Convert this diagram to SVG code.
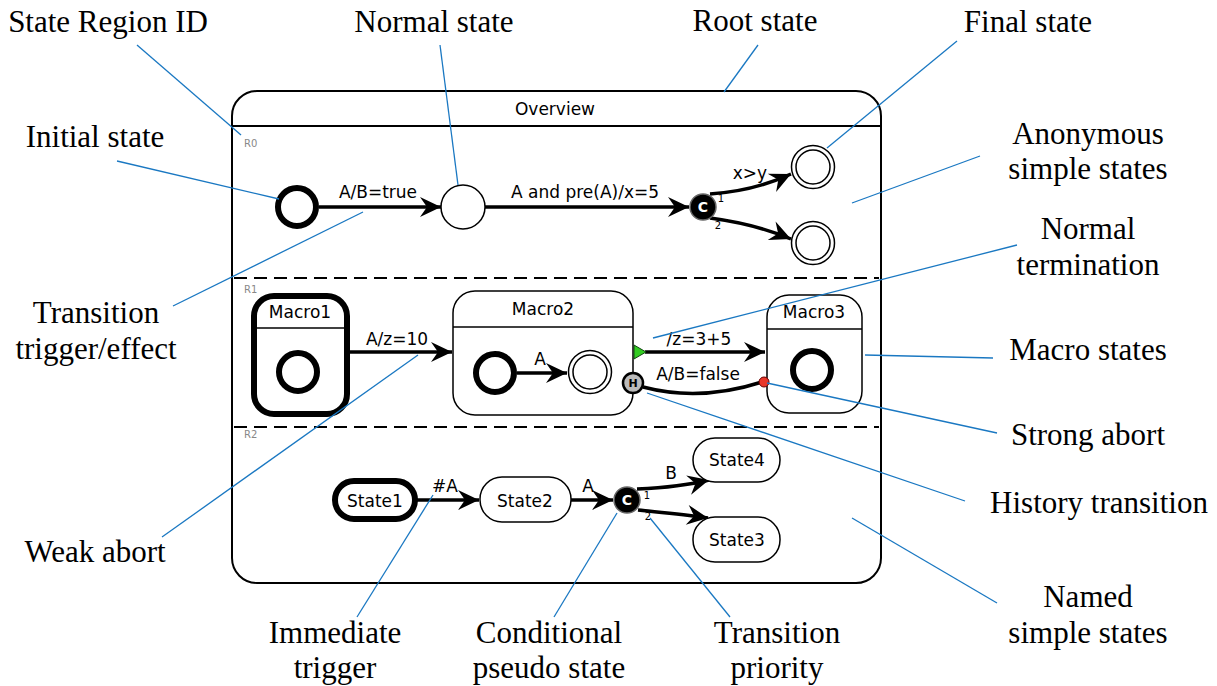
<svg xmlns="http://www.w3.org/2000/svg" width="1217" height="686" viewBox="0 0 1217 686">
<style>
.ann{font-family:"Liberation Serif","Times New Roman",serif;font-size:31px;fill:#000;text-anchor:middle}
.lead{stroke:#1a78c2;stroke-width:1.3;fill:none}
.lbl{font-family:"DejaVu Sans",sans-serif;font-size:17px;fill:#000;text-anchor:middle}
.rid{font-family:"DejaVu Sans",sans-serif;font-size:10px;fill:#888}
.pri{font-family:"DejaVu Sans",sans-serif;font-size:10px;fill:#000;text-anchor:middle}
.tr{stroke:#000;stroke-width:3.5;fill:none;marker-end:url(#ah)}
.init{fill:#fff;stroke:#000;stroke-width:6}
.thin{fill:#fff;stroke:#000;stroke-width:1.5}
.cond{fill:#000;stroke:#666;stroke-width:1.5}
.ct{font-family:"DejaVu Sans",sans-serif;font-size:14px;font-weight:bold;fill:#fff;text-anchor:middle}
.dash{stroke:#000;stroke-width:2;stroke-dasharray:13 7}
</style>
<defs>
<marker id="ah" markerUnits="userSpaceOnUse" markerWidth="24" markerHeight="24" viewBox="-22 -12 24 24" refX="0" refY="0" orient="auto">
<path d="M0,0 L-21,-10 L-14,0 L-21,10 Z" fill="#000"/>
</marker>
</defs>
<rect width="1217" height="686" fill="#fff"/>

<g id="root">
<rect x="232" y="91" width="649" height="492" rx="25" fill="none" stroke="#000" stroke-width="2"/>
<line x1="232" y1="126" x2="881" y2="126" stroke="#000" stroke-width="2"/>
<text x="555" y="115" class="lbl">Overview</text>
<line x1="234" y1="278" x2="879" y2="278" class="dash"/>
<line x1="234" y1="427" x2="879" y2="427" class="dash"/>
<text x="244" y="147" class="rid">R0</text>
<text x="244" y="293" class="rid">R1</text>
<text x="244" y="438" class="rid">R2</text>
</g>

<g id="connectors">
<line x1="319" y1="207" x2="441" y2="207" class="tr"/>
<text x="378" y="198" class="lbl">A/B=true</text>
<line x1="485" y1="207" x2="689" y2="207" class="tr"/>
<text x="585" y="198" class="lbl">A and pre(A)/x=5</text>
<path d="M710,194 C740,192 765,186 791,174" class="tr"/>
<text x="750" y="179" class="lbl">x&gt;y</text>
<path d="M710,218 C740,222 765,228 791,239" class="tr"/>
<text x="721" y="202" class="pri">1</text>
<text x="718" y="229" class="pri">2</text>

<line x1="350" y1="352" x2="452" y2="352" class="tr"/>
<text x="397" y="345" class="lbl">A/z=10</text>
<line x1="517" y1="373" x2="567" y2="373" class="tr"/>
<text x="540" y="365" class="lbl">A</text>
<line x1="645" y1="352" x2="765" y2="352" class="tr"/>
<text x="699" y="345" class="lbl">/z=3+5</text>
<path d="M643,387 Q700,402 762,382" stroke="#000" stroke-width="3.5" fill="none"/>
<text x="698" y="380" class="lbl">A/B=false</text>

<line x1="417" y1="500" x2="479" y2="500" class="tr"/>
<text x="445" y="492" class="lbl">#A</text>
<line x1="571" y1="500" x2="613" y2="500" class="tr"/>
<text x="588" y="492" class="lbl">A</text>
<path d="M637,489 C660,488 685,486 709,480" class="tr"/>
<text x="671" y="479" class="lbl">B</text>
<path d="M638,510 C665,513 688,515 708,518" class="tr"/>
<text x="647" y="499" class="pri">1</text>
<text x="648" y="520" class="pri">2</text>
</g>

<g id="initial0"><circle cx="297" cy="207" r="19" class="init"/></g>
<g id="normal0"><circle cx="463" cy="207" r="22" class="thin"/></g>
<g id="cond0"><circle cx="703" cy="207" r="13" class="cond"/><text x="703" y="212" class="ct">C</text></g>
<g id="final0a"><circle cx="813" cy="167" r="21.5" class="thin"/><circle cx="813" cy="167" r="17" class="thin"/></g>
<g id="final0b"><circle cx="813" cy="243" r="21.5" class="thin"/><circle cx="813" cy="243" r="17" class="thin"/></g>

<g id="macro1">
<rect x="254" y="296" width="93" height="118" rx="20" fill="#fff" stroke="#000" stroke-width="6"/>
<line x1="254" y1="328" x2="347" y2="328" stroke="#000" stroke-width="1.5"/>
<text x="300" y="318" class="lbl">Macro1</text>
<circle cx="298" cy="372" r="19" class="init"/>
</g>
<g id="macro2">
<rect x="453" y="291" width="180" height="124" rx="22" fill="none" stroke="#000" stroke-width="1.5"/>
<line x1="453" y1="327" x2="633" y2="327" stroke="#000" stroke-width="1.5"/>
<text x="543" y="315" class="lbl">Macro2</text>
<circle cx="495" cy="373" r="19" class="init"/>
<circle cx="590" cy="372" r="21.5" class="thin"/><circle cx="590" cy="372" r="17" class="thin"/>
<polygon points="634,345 646,352 634,359" fill="#33cc22" stroke="#114411" stroke-width="1"/>
<circle cx="633" cy="383" r="10" fill="#bbb" stroke="#000" stroke-width="2.5"/>
<text x="633" y="387" font-family="DejaVu Sans,sans-serif" font-size="11" font-weight="bold" text-anchor="middle">H</text>
</g>
<g id="macro3">
<rect x="767" y="295" width="95" height="118" rx="22" fill="#fff" stroke="#000" stroke-width="1.5"/>
<line x1="767" y1="329" x2="862" y2="329" stroke="#000" stroke-width="1.5"/>
<text x="814" y="318" class="lbl">Macro3</text>
<circle cx="812" cy="370" r="19" class="init"/>
<circle cx="764" cy="382" r="5" fill="#e8372a" stroke="#600" stroke-width="1"/>
</g>

<g id="state1"><rect x="335" y="481" width="80" height="38" rx="19" fill="#fff" stroke="#000" stroke-width="6"/><text x="375" y="507" class="lbl">State1</text></g>
<g id="state2"><rect x="480" y="477" width="91" height="45" rx="22" class="thin"/><text x="525" y="507" class="lbl">State2</text></g>
<g id="cond2"><circle cx="627" cy="500" r="13" class="cond"/><text x="627" y="505" class="ct">C</text></g>
<g id="state4"><rect x="693" y="438" width="87" height="44" rx="22" class="thin"/><text x="737" y="466" class="lbl">State4</text></g>
<g id="state3"><rect x="693" y="517" width="87" height="45" rx="22" class="thin"/><text x="737" y="546" class="lbl">State3</text></g>

<g id="annotations">
<line x1="137" y1="45" x2="241" y2="135" class="lead"/>
<line x1="117" y1="161" x2="279" y2="199" class="lead"/>
<line x1="440" y1="45" x2="458" y2="185" class="lead"/>
<line x1="758" y1="45" x2="724" y2="92" class="lead"/>
<line x1="957" y1="41" x2="827" y2="148" class="lead"/>
<line x1="980" y1="156" x2="852" y2="203" class="lead"/>
<line x1="173" y1="306" x2="363" y2="212" class="lead"/>
<line x1="1017" y1="245" x2="653" y2="338" class="lead"/>
<line x1="865" y1="355" x2="993" y2="358" class="lead"/>
<line x1="767" y1="383" x2="997" y2="433" class="lead"/>
<line x1="647" y1="393" x2="965" y2="501" class="lead"/>
<line x1="418" y1="355" x2="162" y2="537" class="lead"/>
<line x1="433" y1="495" x2="357" y2="617" class="lead"/>
<line x1="617" y1="513" x2="554" y2="617" class="lead"/>
<line x1="650" y1="518" x2="730" y2="617" class="lead"/>
<line x1="852" y1="518" x2="997" y2="603" class="lead"/>
<text x="108" y="32" class="ann">State Region ID</text>
<text x="434" y="32" class="ann">Normal state</text>
<text x="755" y="31" class="ann">Root state</text>
<text x="1028" y="32" class="ann">Final state</text>
<text x="95" y="147" class="ann">Initial state</text>
<text x="1088" y="144" class="ann">Anonymous</text>
<text x="1088" y="179" class="ann">simple states</text>
<text x="1088" y="239" class="ann">Normal</text>
<text x="1088" y="275" class="ann">termination</text>
<text x="96" y="323" class="ann">Transition</text>
<text x="96" y="359" class="ann">trigger/effect</text>
<text x="1088" y="360" class="ann">Macro states</text>
<text x="1088" y="445" class="ann">Strong abort</text>
<text x="1099" y="513" class="ann">History transition</text>
<text x="95" y="562" class="ann">Weak abort</text>
<text x="1088" y="607" class="ann">Named</text>
<text x="1088" y="643" class="ann">simple states</text>
<text x="335" y="643" class="ann">Immediate</text>
<text x="335" y="678" class="ann">trigger</text>
<text x="549" y="643" class="ann">Conditional</text>
<text x="549" y="678" class="ann">pseudo state</text>
<text x="777" y="643" class="ann">Transition</text>
<text x="777" y="678" class="ann">priority</text>
</g>
</svg>
